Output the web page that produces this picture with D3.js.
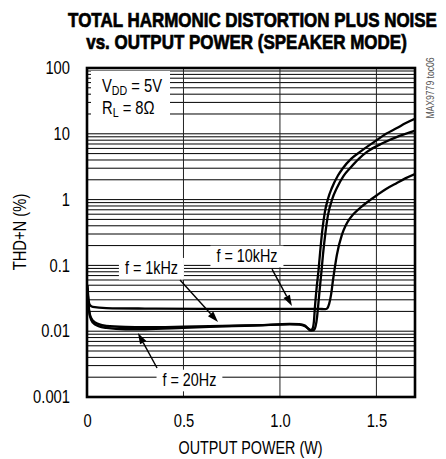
<!DOCTYPE html>
<html>
<head>
<meta charset="utf-8">
<script src="https://cdn.jsdelivr.net/npm/d3@7"></script>
<style>
  html, body { margin: 0; padding: 0; background: #fff; }
  svg { display: block; }
  text { font-family: "Liberation Sans", Arial, Helvetica, sans-serif; }
</style>
</head>
<body>
<svg id="chart" width="446" height="459"></svg>
<script>
// ---------- DATA ----------
const titleLines = ["TOTAL HARMONIC DISTORTION PLUS NOISE", "vs. OUTPUT POWER (SPEAKER MODE)"];
const xLabel = "OUTPUT POWER (W)";
const yLabel = "THD+N (%)";
const xTicks = [0, 0.5, 1.0, 1.5];
const xTickLabels = ["0", "0.5", "1.0", "1.5"];
const yTicks = [0.001, 0.01, 0.1, 1, 10, 100];
const yTickLabels = ["0.001", "0.01", "0.1", "1", "10", "100"];
const xDomain = [0, 1.7];
const yDomain = [0.001, 100];

// f = 20Hz  [W, %]
const f20Hz = [
  [0.003, 0.045], [0.008, 0.024], [0.015, 0.017], [0.03, 0.0135], [0.06, 0.0119],
  [0.1, 0.0112], [0.2, 0.0107], [0.3, 0.0107], [0.5, 0.0112], [0.7, 0.0118],
  [0.9, 0.0123], [1.05, 0.0127], [1.1, 0.0126], [1.13, 0.0119], [1.15, 0.0108],
  [1.165, 0.0103], [1.175, 0.0104], [1.185, 0.012], [1.193, 0.017], [1.197, 0.0225],
  [1.205, 0.04], [1.215, 0.08], [1.223, 0.144], [1.235, 0.3], [1.249, 0.58],
  [1.27, 1.0], [1.295, 1.5], [1.33, 2.3], [1.363, 3.0], [1.41, 4.2],
  [1.451, 5.3], [1.534, 7.24], [1.62, 9.3], [1.72, 11.6]
];
// f = 1kHz
const f1kHz = [
  [0.003, 0.04], [0.008, 0.025], [0.015, 0.018], [0.03, 0.0145], [0.06, 0.0128],
  [0.1, 0.012], [0.2, 0.0116], [0.3, 0.0115], [0.5, 0.0117], [0.7, 0.012],
  [0.9, 0.0124], [1.05, 0.0129], [1.1, 0.0128], [1.13, 0.0122], [1.145, 0.011],
  [1.158, 0.0103], [1.168, 0.0108], [1.176, 0.014], [1.181, 0.0225], [1.19, 0.045],
  [1.2, 0.085], [1.207, 0.144], [1.22, 0.35], [1.233, 0.65], [1.25, 1.05],
  [1.269, 1.5], [1.3, 2.3], [1.326, 3.0], [1.37, 4.2], [1.415, 5.3],
  [1.46, 6.6], [1.503, 8.05], [1.55, 10], [1.606, 12.2], [1.65, 14.5], [1.72, 18.0]
];
// f = 10kHz
const f10kHz = [
  [0.003, 0.05], [0.008, 0.03], [0.015, 0.025], [0.03, 0.0235], [0.1, 0.0225],
  [0.3, 0.0221], [0.6, 0.0219], [0.9, 0.0219], [1.1, 0.0219], [1.2, 0.0219],
  [1.235, 0.0216], [1.245, 0.0222], [1.255, 0.026], [1.265, 0.036], [1.275, 0.06],
  [1.285, 0.095], [1.295, 0.144], [1.321, 0.29], [1.34, 0.4], [1.363, 0.52],
  [1.415, 0.745], [1.46, 0.95], [1.503, 1.17], [1.55, 1.45], [1.606, 1.79],
  [1.65, 2.1], [1.72, 2.6]
];
const seriesList = [f20Hz, f1kHz, f10kHz];

// curve labels: text, label centre [W, %], arrow from [W, %], arrow to [W, %]
const curveLabels = ["f = 10kHz", "f = 1kHz", "f = 20Hz"];
const labelPos = [[0.829, 0.139], [0.334, 0.0905], [0.531, 0.00181]];
const arrowFrom = [[0.959, 0.088], [0.482, 0.06], [0.363, 0.00276]];
const arrowTo = [[1.062, 0.0241], [0.679, 0.0138], [0.264, 0.0094]];

const condLine1 = ["V", "DD", " = 5V"];
const condLine2 = ["R", "L", " = 8\u03A9"];
const docId = "MAX9779 toc06";

// ---------- LAYOUT ----------
const W = 446, H = 459;
const m = { left: 87, right: 31, top: 68, bottom: 62 };
const pw = W - m.left - m.right, ph = H - m.top - m.bottom;
const NARROW = 0.82;

const svg = d3.select("#chart");
const x = d3.scaleLinear().domain(xDomain).range([m.left, m.left + pw]);
const y = d3.scaleLog().domain(yDomain).range([m.top + ph, m.top]);

// narrow text helper: group at (px,py) horizontally compressed
function ntext(parent, px, py, size, anchor, sx) {
  const gg = parent.append("g").attr("transform", `translate(${px},${py}) scale(${sx || NARROW},1)`);
  return gg.append("text").attr("x", 0).attr("y", 0).attr("font-size", size)
    .attr("text-anchor", anchor || "start");
}

// title (bold, compressed to reference width)
const titleTargets = [[252.5, 26.5, 369], [246.5, 49, 321]];
titleLines.forEach((t, i) => {
  const tmp = svg.append("text").attr("font-size", 20).attr("font-weight", "bold").text(t);
  const nat = tmp.node().getComputedTextLength();
  tmp.remove();
  ntext(svg, titleTargets[i][0], titleTargets[i][1], 20, "middle", titleTargets[i][2] / nat)
    .attr("font-weight", "bold").attr("stroke", "#000").attr("stroke-width", 0.7).text(t);
});

// grid: horizontal log minor lines
const gridVals = [];
for (let e = -3; e < 2; e++) for (let k = 1; k <= 9; k++) gridVals.push(k * Math.pow(10, e));
const g = svg.append("g");
g.selectAll("line.h").data(gridVals.filter(v => v > 0.001 && v < 100)).join("line")
  .attr("x1", m.left).attr("x2", m.left + pw)
  .attr("y1", d => y(d)).attr("y2", d => y(d))
  .attr("stroke", "#000").attr("stroke-width", 1);
g.selectAll("line.v").data(xTicks.filter(v => v > 0)).join("line")
  .attr("x1", d => x(d)).attr("x2", d => x(d))
  .attr("y1", m.top).attr("y2", m.top + ph)
  .attr("stroke", "#222").attr("stroke-width", 1);

// curves
svg.append("clipPath").attr("id", "clip").append("rect")
  .attr("x", m.left).attr("y", m.top).attr("width", pw).attr("height", ph);
const line = d3.line().x(d => x(d[0])).y(d => y(d[1])).curve(d3.curveMonotoneX);
svg.append("g").attr("clip-path", "url(#clip)")
  .selectAll("path").data(seriesList).join("path")
  .attr("d", line).attr("fill", "none").attr("stroke", "#000")
  .attr("stroke-width", 2.3).attr("stroke-linejoin", "round");

// condition box
const cond = svg.append("g");
cond.append("rect").attr("x", m.left + 4).attr("y", m.top + 3).attr("width", 79).attr("height", 55).attr("fill", "#fff");
[[condLine1, 92], [condLine2, 114]].forEach(([parts, yy]) => {
  const t = ntext(cond, 102, yy, 18, "start");
  t.append("tspan").text(parts[0]);
  t.append("tspan").attr("font-size", 13).attr("dy", 3).text(parts[1]);
  t.append("tspan").attr("dy", -3).text(parts[2]);
});

// curve labels + arrows
const ann = svg.append("g");
curveLabels.forEach((t, i) => {
  const px = x(labelPos[i][0]), py = y(labelPos[i][1]) + 6;
  const gg = ann.append("g");
  const r = gg.append("rect").attr("fill", "#fff");
  const tx = ntext(gg, px, py, 17.5, "middle").text(t);
  const bb = tx.node().getBBox();
  const w = bb.width * NARROW;
  r.attr("x", px - w / 2 - 6).attr("y", py + bb.y - 1).attr("width", w + 12).attr("height", bb.height + 3);
});
curveLabels.forEach((t, i) => {
  const x1 = x(arrowFrom[i][0]), y1 = y(arrowFrom[i][1]);
  const x2 = x(arrowTo[i][0]), y2 = y(arrowTo[i][1]);
  const ang = Math.atan2(y2 - y1, x2 - x1);
  const L = 11, Wd = 3.6;
  const bx = x2 - L * Math.cos(ang), by = y2 - L * Math.sin(ang);
  ann.append("line").attr("x1", x1).attr("y1", y1).attr("x2", bx).attr("y2", by)
    .attr("stroke", "#000").attr("stroke-width", 1.4);
  ann.append("path")
    .attr("d", `M${x2},${y2}L${bx + Wd * Math.sin(ang)},${by - Wd * Math.cos(ang)}L${bx - Wd * Math.sin(ang)},${by + Wd * Math.cos(ang)}Z`)
    .attr("fill", "#000");
});

// frame
svg.append("rect").attr("x", m.left).attr("y", m.top).attr("width", pw).attr("height", ph)
  .attr("fill", "none").attr("stroke", "#000").attr("stroke-width", 2.6);

// axes (labels only)
const xAxis = d3.axisBottom(x).tickValues(xTicks).tickSize(0).tickPadding(0)
  .tickFormat((d, i) => xTickLabels[i]);
const xg = svg.append("g").attr("transform", `translate(0,${m.top + ph})`).call(xAxis);
xg.select(".domain").remove();
xg.selectAll("text").attr("font-size", 18).attr("fill", "#000")
  .attr("dy", null).attr("y", 30).attr("transform", `scale(${NARROW},1)`);

const yAxis = d3.axisLeft(y).tickValues(yTicks).tickSize(0).tickPadding(0)
  .tickFormat((d, i) => yTickLabels[i]);
const yg = svg.append("g").attr("transform", `translate(${m.left - 17},0)`).call(yAxis);
yg.select(".domain").remove();
yg.selectAll("text").attr("font-size", 18).attr("fill", "#000").attr("x", 0)
  .attr("transform", `scale(${NARROW},1)`);

ntext(svg, 250.5, 454, 17.5, "middle").text(xLabel);
svg.append("g").attr("transform", "translate(26,232) rotate(-90) scale(0.82,1)")
  .append("text").attr("text-anchor", "middle").attr("font-size", 18).text(yLabel);

svg.append("g").attr("transform", "translate(434,88) rotate(-90) scale(0.82,1)")
  .append("text").attr("text-anchor", "middle").attr("font-size", 10.5).attr("fill", "#555").text(docId);
</script>
</body>
</html>
